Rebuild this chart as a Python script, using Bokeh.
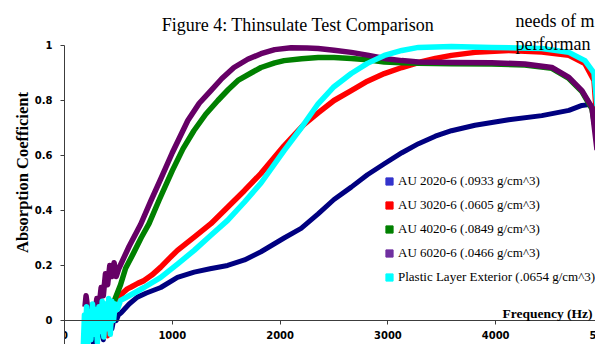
from bokeh.plotting import figure
from bokeh.models import (Range1d, FixedTicker, Legend, LegendItem, Label,
                          ColumnDataSource, NumeralTickFormatter)
from bokeh.embed import file_html
from bokeh.resources import INLINE

# ---------------- data ----------------
series_names = [
    "AU 2020-6 (.0933 g/cm^3)",
    "AU 3020-6 (.0605 g/cm^3)",
    "AU 4020-6 (.0849 g/cm^3)",
    "AU 6020-6 (.0466 g/cm^3)",
    "Plastic Layer Exterior (.0654 g/cm^3)",
]

freq_2020 = [200, 215, 230, 250, 265, 280, 300, 320, 340, 360, 380, 400, 420, 440, 460, 480, 500,
             530, 600, 676, 760, 893, 1048, 1203, 1350, 1513, 1670, 1823, 2037, 2195, 2353, 2500,
             2660, 2810, 2967, 3130, 3284, 3440, 3590, 3808, 4121, 4428, 4679, 4800, 4865, 4912, 4940]
abs_2020 = [-0.05, 0.02, -0.07, 0.01, -0.08, 0.0, -0.06, 0.02, -0.04, -0.07, -0.02, -0.05, 0.0, -0.03, 0.01, 0.0, 0.02,
            0.03, 0.06, 0.085, 0.10, 0.12, 0.157, 0.176, 0.188, 0.20, 0.22, 0.25, 0.30, 0.335, 0.388, 0.44,
            0.485, 0.53, 0.57, 0.61, 0.643, 0.67, 0.69, 0.71, 0.73, 0.745, 0.764, 0.782, 0.785, 0.775, 0.70]

freq_3020 = [220, 260, 300, 340, 380, 400, 440, 470, 500, 540, 583, 614, 680, 738, 810, 893, 970, 1048,
             1203, 1358, 1513, 1668, 1823, 2037, 2220, 2353, 2500, 2660, 2810, 2967, 3130, 3284, 3440,
             3590, 3808, 4121, 4428, 4679, 4828, 4912, 4940]
abs_3020 = [-0.03, 0.01, -0.04, 0.02, -0.05, -0.055, 0.0, 0.04, 0.08, 0.10, 0.115, 0.121, 0.135, 0.145, 0.165, 0.194, 0.225, 0.255,
            0.303, 0.352, 0.412, 0.472, 0.535, 0.635, 0.712, 0.755, 0.80, 0.836, 0.87, 0.898, 0.92, 0.938, 0.953,
            0.964, 0.975, 0.982, 0.976, 0.964, 0.934, 0.873, 0.72]

freq_4020 = [300, 340, 380, 420, 450, 480, 520, 567, 640, 710, 784, 880, 1000, 1100, 1200, 1310, 1423,
             1520, 1609, 1730, 1823, 1950, 2037, 2200, 2353, 2500, 2660, 2810, 2967, 3130, 3284, 3590,
             3963, 4270, 4521, 4679, 4800, 4893, 4940]
abs_4020 = [0.02, 0.05, 0.03, 0.07, 0.06, 0.09, 0.13, 0.19, 0.245, 0.30, 0.352, 0.44, 0.545, 0.625, 0.69, 0.75, 0.80,
            0.84, 0.873, 0.90, 0.92, 0.937, 0.945, 0.952, 0.956, 0.956, 0.953, 0.948, 0.94, 0.937, 0.935, 0.934,
            0.933, 0.929, 0.917, 0.88, 0.832, 0.77, 0.66]

freq_6020 = [190, 200, 210, 220, 240, 260, 280, 300, 320, 340, 360, 380, 400, 420, 440, 460, 480, 505,
             600, 707, 800, 893, 1000, 1144, 1250, 1358, 1460, 1572, 1700, 1823, 1950, 2102, 2250, 2353,
             2500, 2660, 2810, 2967, 3130, 3284, 3590, 3963, 4270, 4521, 4679, 4800, 4893, 4940]
abs_6020 = [0.05, 0.09, 0.06, 0.03, 0.0, 0.04, 0.02, 0.08, 0.05, 0.12, 0.09, 0.17, 0.13, 0.20, 0.16, 0.21, 0.16, 0.19,
            0.27, 0.35, 0.434, 0.515, 0.61, 0.727, 0.79, 0.836, 0.88, 0.92, 0.95, 0.97, 0.985, 0.992, 0.991, 0.989,
            0.983, 0.975, 0.965, 0.953, 0.945, 0.94, 0.938, 0.937, 0.933, 0.92, 0.884, 0.836, 0.775, 0.62]

freq_plastic = [175, 185, 195, 205, 215, 230, 245, 260, 275, 290, 305, 320, 335, 350, 365, 380, 395, 410,
                425, 440, 455, 470, 490, 521, 600, 738, 893, 1048, 1203, 1358, 1513, 1668, 1823, 2037,
                2195, 2353, 2500, 2660, 2810, 2967, 3130, 3284, 3590, 3963, 4428, 4679, 4828, 4912, 4940]
abs_plastic = [-0.09, 0.02, -0.06, 0.05, -0.08, 0.03, -0.07, 0.06, -0.05, 0.04, -0.08, 0.05, -0.04, 0.07, -0.06, 0.06, -0.03, 0.08,
               -0.05, 0.07, 0.0, 0.06, 0.04, 0.073, 0.09, 0.12, 0.157, 0.205, 0.255, 0.31, 0.364, 0.43, 0.50, 0.618,
               0.70, 0.788, 0.85, 0.898, 0.935, 0.964, 0.982, 0.993, 0.996, 0.993, 0.989, 0.975, 0.945, 0.90, 0.78]

x_ticks = [0, 1000, 2000, 3000, 4000, 5000]
y_ticks = [0, 0.2, 0.4, 0.6, 0.8, 1.0]

line_colors = ["#000080", "#ff0000", "#008000", "#660066", "#00ffff"]
legend_colors = ["#3333cc", "#ff0000", "#008000", "#7030a0", "#00ffff"]

# ---------------- figure ----------------
p = figure(width=595, height=344, output_backend="svg", toolbar_location=None,
           x_range=Range1d(0, 4926), y_range=Range1d(-0.0873, 1.1636),
           min_border_left=64, min_border_right=0, min_border_top=0, min_border_bottom=0)
p.title.visible = False
p.outline_line_color = None
p.background_fill_color = "white"
p.border_fill_color = "white"
p.xgrid.visible = False
p.ygrid.visible = False

axis_color = "#3c3c3c"
for ax in (p.xaxis[0], p.yaxis[0]):
    ax.axis_line_color = axis_color
    ax.major_tick_line_color = axis_color
    ax.minor_tick_line_color = None
    ax.major_tick_in = 0
    ax.major_tick_out = 4
    ax.major_label_text_font = "DejaVu Sans"
    ax.major_label_text_font_style = "bold"
    ax.major_label_text_font_size = "10px"
    ax.major_label_text_color = "black"

p.xaxis.ticker = FixedTicker(ticks=x_ticks)
p.xaxis.formatter = NumeralTickFormatter(format="0")
p.xaxis.fixed_location = 0
p.xaxis.bounds = (0, 5000)
p.xaxis.major_label_standoff = 7

p.yaxis.ticker = FixedTicker(ticks=y_ticks)
p.yaxis.formatter = NumeralTickFormatter(format="0.[0]")
p.yaxis.bounds = (-0.0873, 1.0)
p.yaxis.major_label_standoff = 8
p.yaxis.axis_label = "Absorption Coefficient"
p.yaxis.axis_label_text_font = "Liberation Serif"
p.yaxis.axis_label_text_font_style = "bold"
p.yaxis.axis_label_text_font_size = "16.5px"
p.yaxis.axis_label_text_color = "black"
p.yaxis.axis_label_standoff = 0

all_freqs = [freq_2020, freq_3020, freq_4020, freq_6020, freq_plastic]
all_abs = [abs_2020, abs_3020, abs_4020, abs_6020, abs_plastic]
widths = [5, 5.5, 5.5, 5.5, 5.5]

nan = float("nan")
items = []
for name, fx, ay, lc, mc, w in zip(series_names, all_freqs, all_abs, line_colors, legend_colors, widths):
    src = ColumnDataSource(data=dict(freq=fx, absorption=ay))
    p.line("freq", "absorption", source=src, line_color=lc, line_width=w, line_join="round")
    # legend-only square marker (not plotted: NaN position)
    key = p.scatter(x=[nan], y=[nan], marker="square", fill_color=mc, line_color=mc)
    items.append(LegendItem(label=name, renderers=[key]))

legend = Legend(items=items, location=(316, 58), orientation="vertical",
                padding=0, margin=0, spacing=6,
                glyph_width=18, glyph_height=18, label_height=18, label_standoff=-2,
                border_line_color=None, background_fill_alpha=0,
                label_text_font="Liberation Serif", label_text_font_size="13px",
                label_text_color="black")
p.add_layout(legend)

# ---------------- texts ----------------
serif = "Liberation Serif"
p.add_layout(Label(x=233.5, y=320, x_units="screen", y_units="screen",
                   text="Figure 4: Thinsulate Test Comparison", text_font=serif,
                   text_font_size="18px", text_align="center", text_baseline="alphabetic",
                   text_color="black"))
p.add_layout(Label(x=451, y=324, x_units="screen", y_units="screen",
                   text="needs of m", text_font=serif, text_font_size="18px",
                   text_align="left", text_baseline="alphabetic", text_color="black"))
p.add_layout(Label(x=451, y=301, x_units="screen", y_units="screen",
                   text="performan", text_font=serif, text_font_size="18px",
                   text_align="left", text_baseline="alphabetic", text_color="black"))
p.add_layout(Label(x=438, y=31, x_units="screen", y_units="screen",
                   text="Frequency (Hz)", text_font=serif, text_font_size="13.5px",
                   text_font_style="bold", text_align="left", text_baseline="alphabetic",
                   text_color="black"))
p.add_layout(Label(x=x_ticks[-1], y=0, x_units="data", y_units="data", y_offset=-11,
                   text="5000", text_font="DejaVu Sans", text_font_size="10px",
                   text_font_style="bold", text_align="center", text_baseline="top",
                   text_color="black"))

open("out.html", "w").write(file_html(p, INLINE))
